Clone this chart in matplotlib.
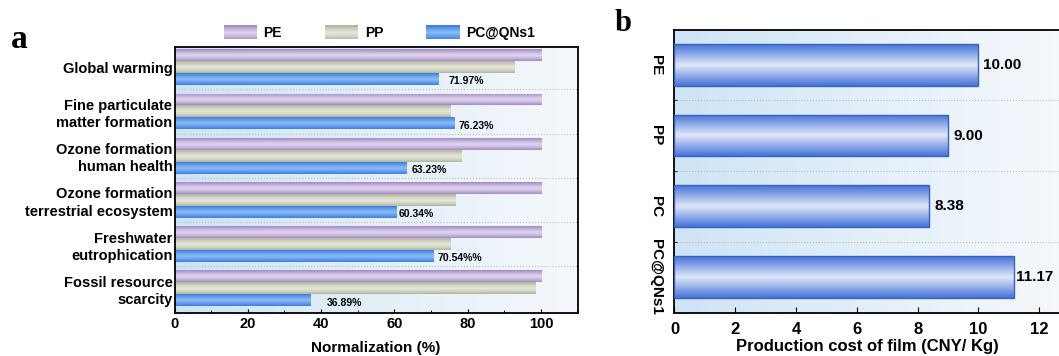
import numpy as np
import matplotlib
matplotlib.use("Agg")
import matplotlib.pyplot as plt
from matplotlib.colors import LinearSegmentedColormap
from matplotlib.patches import Patch, Rectangle
from matplotlib.legend_handler import HandlerBase
from matplotlib.ticker import MultipleLocator, FixedLocator

plt.rcParams["font.family"] = ["Liberation Sans", "DejaVu Sans"]
plt.rcParams["font.weight"] = "bold"
plt.rcParams["axes.linewidth"] = 1.3

# ---- panel a: normalised impact categories ----
impact_categories = [
    "Global warming",
    "Fine particulate\nmatter formation",
    "Ozone formation\nhuman health",
    "Ozone formation\nterrestrial ecosystem",
    "Freshwater\neutrophication",
    "Fossil resource\nscarcity",
]
series_names = ["PE", "PP", "PC@QNs1"]
pe_values = [100, 100, 100, 100, 100, 100]
pp_values = [92.7, 75.2, 78.2, 76.5, 75.2, 98.4]
pc_qns1_values = [71.97, 76.23, 63.23, 60.34, 70.54, 36.89]
pc_qns1_labels = ["71.97%", "76.23%", "63.23%", "60.34%", "70.54%%", "36.89%"]
label_offsets = [2.8, 1.3, 1.4, 0.9, 1.1, 4.6]

# ---- panel b: production cost ----
films = ["PE", "PP", "PC", "PC@QNs1"]
film_costs = [10.00, 9.00, 8.38, 11.17]
cost_offsets = [0.15, 0.19, 0.16, 0.08]

pe_colors = ["#a38ac6", "#c9badf", "#e0d7ed", "#c4b2dc", "#a38ac6"]
pp_colors = ["#b1b49b", "#d4d6c5", "#e7e8dd", "#d0d2c0", "#b1b49b"]
pc_colors = ["#3d7de0", "#67a0ee", "#8fbdf5", "#67a0ee", "#3d7de0"]
cost_colors = ["#4674da", "#93aeea", "#e0e7f8", "#93aeea", "#4674da"]
bg_colors = ["#cde4f6", "#e3eff9", "#f5f8fc"]


def paint_background(ax):
    cmap = LinearSegmentedColormap.from_list("bg", bg_colors)
    grad = np.linspace(0, 1, 256).reshape(1, -1)
    ax.imshow(grad, extent=(0, 1, 0, 1), transform=ax.transAxes, cmap=cmap,
              aspect="auto", zorder=0, interpolation="bilinear")


def gradient_fill(ax, bars, colors):
    cmap = LinearSegmentedColormap.from_list("bar", colors)
    grad = np.linspace(0, 1, 64).reshape(-1, 1)
    for bar in bars:
        x, y = bar.get_x(), bar.get_y()
        w, h = bar.get_width(), bar.get_height()
        im = ax.imshow(grad, extent=(x, x + w, y, y + h), cmap=cmap,
                       aspect="auto", zorder=2, interpolation="bilinear")
        im.set_clip_path(bar)


class GradientHandler(HandlerBase):
    def __init__(self, colors):
        super().__init__()
        self.cmap = LinearSegmentedColormap.from_list("leg", colors)

    def create_artists(self, legend, orig_handle, xdescent, ydescent,
                       width, height, fontsize, trans):
        n = 16
        out = []
        for k in range(n):
            out.append(Rectangle((-xdescent, -ydescent + height * k / n),
                                 width, height / n + 0.3,
                                 facecolor=self.cmap((k + 0.5) / n),
                                 edgecolor="none", transform=trans))
        return out


fig = plt.figure(figsize=(10.59, 3.56), dpi=100)

# ================= panel a =================
ax1 = fig.add_axes([0.1648, 0.1216, 0.3807, 0.7455])
paint_background(ax1)

n = len(impact_categories)
y = np.arange(n)
bh = 0.27
series = [pe_values, pp_values, pc_qns1_values]
shifts = [-bh, 0, bh]
palettes = [pe_colors, pp_colors, pc_colors]
for vals, dy, pal in zip(series, shifts, palettes):
    bars = ax1.barh(y + dy, vals, height=bh, facecolor="none",
                    edgecolor="none", zorder=3)
    gradient_fill(ax1, bars, pal)

for i, (v, lab, off) in enumerate(zip(pc_qns1_values, pc_qns1_labels,
                                      label_offsets)):
    ax1.text(v + off, i + bh + 0.05, lab, fontsize=7.5, fontweight="bold",
             ha="left", va="center", zorder=4)

ax1.set_xlim(0, 110)
ax1.set_ylim(n - 0.45, -0.45)
ax1.set_yticks(y)
ax1.set_yticklabels(impact_categories, fontsize=10.5, linespacing=1.3)
ax1.yaxis.set_minor_locator(FixedLocator(y[:-1] + 0.5))
ax1.xaxis.set_major_locator(MultipleLocator(20))
ax1.xaxis.set_minor_locator(MultipleLocator(10))
ax1.tick_params(axis="y", which="major", direction="in", length=3, pad=1.5)
ax1.tick_params(axis="y", which="minor", length=0)
ax1.tick_params(axis="x", which="major", direction="in", length=3,
                labelsize=10.5, pad=3)
ax1.tick_params(axis="x", which="minor", direction="in", length=2)
ax1.grid(which="minor", axis="y", linestyle=":", color="#bdbdbd",
         linewidth=0.8, zorder=1)
ax1.set_xlabel("Normalization (%)", fontsize=11, fontweight="bold",
               labelpad=7)

handles = [Patch(label=s) for s in series_names]
handler_map = {h: GradientHandler(p) for h, p in zip(handles, palettes)}
fig.legend(handles=handles, handler_map=handler_map, loc="center left",
           bbox_to_anchor=(224 / 1059, 1 - 33 / 356), ncol=3, frameon=False,
           prop={"size": 10, "weight": "bold"}, borderpad=0,
           borderaxespad=0, handlelength=2.4, handleheight=1.15,
           handletextpad=0.45, columnspacing=3.1)

# ================= panel b =================
ax2 = fig.add_axes([0.6369, 0.12, 0.3645, 0.7958])
paint_background(ax2)

yb = np.arange(len(films))
bars = ax2.barh(yb, film_costs, height=0.59, facecolor="none",
                edgecolor="#3b62b6", linewidth=1.0, zorder=3)
gradient_fill(ax2, bars, cost_colors)

for i, (v, off) in enumerate(zip(film_costs, cost_offsets)):
    ax2.text(v + off, i, f"{v:.2f}", fontsize=11, fontweight="bold",
             ha="left", va="center", zorder=4)

ax2.set_xlim(0, 12.7)
ax2.set_ylim(len(films) - 0.49, -0.49)
ax2.set_yticks(yb)
ax2.set_yticklabels(films, fontsize=11, rotation=-90, va="center")
ax2.yaxis.set_minor_locator(FixedLocator(yb[:-1] + 0.5))
ax2.xaxis.set_major_locator(MultipleLocator(2))
ax2.tick_params(axis="y", which="major", direction="in", length=3, pad=8)
ax2.tick_params(axis="y", which="minor", direction="in", length=2)
ax2.tick_params(axis="x", which="major", direction="in", length=4,
                labelsize=12, pad=6)
ax2.grid(which="minor", axis="y", linestyle=":", color="#bdbdbd",
         linewidth=0.8, zorder=1)
ax2.set_xlabel("Production cost of film (CNY/ Kg)", fontsize=12,
               fontweight="bold", labelpad=2)

fig.text(11 / 1059, 1 - 48 / 356, "a", fontsize=24, fontweight="bold",
         family=["Liberation Serif", "DejaVu Serif"], va="baseline")
fig.text(615 / 1059, 1 - 31 / 356, "b", fontsize=22, fontweight="bold",
         family=["Liberation Serif", "DejaVu Serif"], va="baseline")

fig.savefig("out.png", dpi=100)
